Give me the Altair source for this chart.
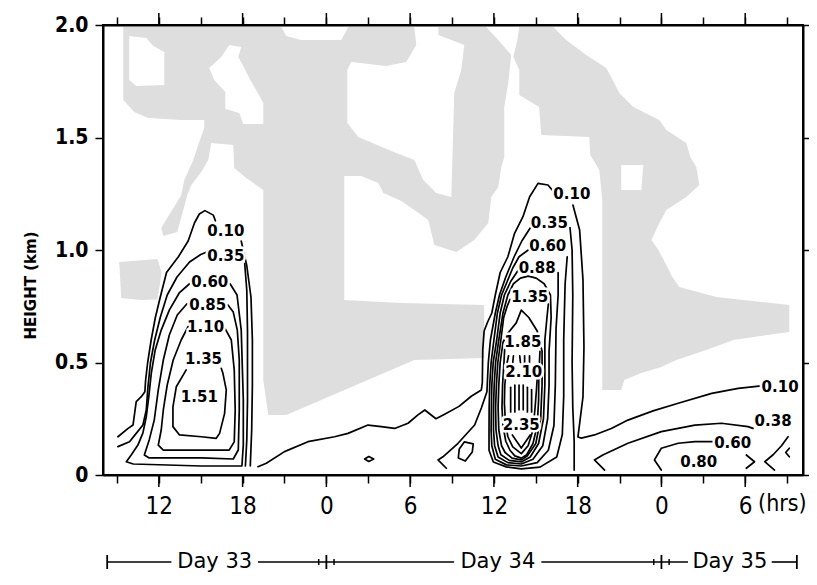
import altair as alt
import pandas as pd

# ---------------- axis values ----------------
HOUR_TICKS = [9, 12, 15, 18, 21, 24, 27, 30, 33, 36, 39, 42, 45, 48, 51, 54, 57]
MAJOR_HOURS = [12, 18, 24, 30, 36, 42, 48, 54]
HEIGHT_TICKS = [0, 0.5, 1.0, 1.5, 2.0]
UNIT_TEXT = ["(hrs)"]
UNIT_T = [58.4]

# ---------------- stippled regions (hour, km) ----------------
STIP_A = [(9.45, 1.991), (20.77, 1.991), (21.13, 1.951), (22.2, 1.933), (25.07, 1.933), (25.57, 1.991),
          (30.3, 1.991), (30.44, 1.911), (29.72, 1.836), (28.29, 1.818), (25.78, 1.836), (25.5, 1.8),
          (25.5, 1.564), (26.29, 1.502), (28.65, 1.44), (30.3, 1.4), (30.94, 1.311), (31.87, 1.253),
          (32.95, 1.236), (33.16, 1.698), (33.66, 1.8), (33.88, 1.911), (32.02, 1.956), (32.02, 1.991),
          (35.45, 1.991), (36.31, 1.933), (37.24, 1.867), (37.03, 1.742), (36.74, 1.636), (36.74, 1.413),
          (36.53, 1.369), (36.31, 1.28), (35.81, 1.236), (35.6, 1.12), (34.59, 1.044), (33.31, 0.991),
          (31.73, 1.022), (31.3, 1.133), (30.3, 1.178), (29.37, 1.218), (28.08, 1.253), (27.72, 1.298),
          (26.5, 1.329), (25.28, 1.329), (25.28, 0.778), (29.37, 0.764), (35.3, 0.756), (35.3, 0.52),
          (30.3, 0.511), (21.13, 0.267), (19.84, 0.267), (19.48, 0.422), (19.48, 1.267), (18.26, 1.32),
          (17.4, 1.364), (17.33, 1.467), (15.75, 1.476), (15.54, 1.4), (15.04, 1.347), (14.33, 1.289),
          (14.04, 1.244), (13.32, 1.08), (12.32, 1.062), (12.17, 1.098), (13.61, 1.244), (13.82, 1.311),
          (14.47, 1.4), (14.82, 1.467), (15.25, 1.542), (15.25, 1.578), (13.61, 1.578), (11.24, 1.587),
          (10.24, 1.613), (9.45, 1.667), (9.45, 1.991)]
STIP_R = [(37.82, 1.991), (40.25, 1.991), (41.18, 1.933), (42.61, 1.867), (44.05, 1.809), (44.55, 1.751),
          (44.98, 1.698), (45.99, 1.636), (47.85, 1.578), (48.35, 1.533), (49.78, 1.476), (50.07, 1.413),
          (50.5, 1.369), (50.71, 1.289), (49.78, 1.236), (48.35, 1.178), (47.85, 1.12), (47.28, 1.044),
          (47.78, 1.0), (48.28, 0.942), (48.78, 0.88), (49.28, 0.836), (51.93, 0.791), (57.16, 0.756),
          (57.16, 0.636), (53.15, 0.6), (51.21, 0.556), (49.07, 0.511), (47.99, 0.48), (46.56, 0.453),
          (45.34, 0.422), (45.12, 0.378), (43.76, 0.378), (43.76, 1.222), (43.55, 1.356), (42.9, 1.422),
          (42.83, 1.502), (39.39, 1.511), (39.24, 1.636), (37.82, 1.689), (37.82, 1.8), (37.39, 1.858),
          (37.68, 1.933), (37.82, 1.991)]
STIP_T = [(9.16, 0.947), (11.9, 0.96), (12.2, 0.9), (11.9, 0.78), (10.74, 0.778), (9.31, 0.787), (9.16, 0.947)]

HOLE_1 = [(9.88, 1.951), (11.1, 1.942), (11.6, 1.907), (12.39, 1.88), (12.39, 1.733), (10.38, 1.729),
          (9.88, 1.756), (9.88, 1.951)]
HOLE_2 = [(17.04, 1.911), (17.9, 1.902), (17.69, 1.858), (18.12, 1.809), (18.55, 1.756), (19.05, 1.702),
          (19.48, 1.653), (19.48, 1.56), (18.05, 1.56), (17.76, 1.609), (16.76, 1.627), (16.76, 1.702),
          (15.97, 1.756), (15.61, 1.809), (16.47, 1.858), (17.04, 1.911)]
HOLE_3 = [(45.12, 1.378), (46.7, 1.378), (46.56, 1.267), (45.12, 1.267), (45.12, 1.378)]

# ---------------- contour lines (hour, km) ----------------
# Day 33 cell
L010a = [(9.07, 0.17), (9.8, 0.207), (10.15, 0.222), (10.38, 0.326), (10.74, 0.348), (11.0, 0.37),
         (11.05, 0.42), (11.2, 0.5), (11.45, 0.6), (11.75, 0.70), (12.1, 0.79), (12.55, 0.9), (13.4, 0.97),
         (14.1, 1.04), (14.55, 1.12), (14.9, 1.16), (15.3, 1.175), (15.9, 1.155), (16.05, 1.13)]
L010b = [(17.9, 1.04), (18.3, 0.93), (18.6, 0.79), (18.7, 0.6), (18.7, 0.4), (18.65, 0.2), (18.55, 0.04)]
L035a = [(9.07, 0.126), (9.9, 0.148), (10.38, 0.185), (10.86, 0.222), (11.1, 0.289), (11.22, 0.392),
         (11.4, 0.5), (11.7, 0.6), (12.1, 0.7), (12.6, 0.8), (13.3, 0.88), (14.2, 0.947), (15.0, 0.98),
         (15.4, 0.99)]
L035b = [(18.15, 0.94), (18.3, 0.82), (18.35, 0.64), (18.35, 0.33), (18.3, 0.156), (18.2, 0.04)]
L060 = [(14.2, 0.85), (13.46, 0.809), (12.75, 0.733), (12.17, 0.644), (11.74, 0.556), (11.46, 0.453),
        (11.28, 0.348), (11.1, 0.259), (10.86, 0.187), (10.5, 0.133), (10.02, 0.089), (9.67, 0.059),
        (10.17, 0.049), (15.04, 0.04), (17.95, 0.04), (18.05, 0.133), (18.05, 0.333), (17.9, 0.644),
        (17.6, 0.8), (17.1, 0.85)]
L085 = [(14.0, 0.76), (13.32, 0.711), (12.75, 0.622), (12.32, 0.511), (11.96, 0.378), (11.67, 0.244),
        (11.31, 0.156), (10.96, 0.089), (11.31, 0.076), (15.04, 0.076), (17.33, 0.071), (17.69, 0.111),
        (17.76, 0.289), (17.76, 0.511), (17.62, 0.644), (17.33, 0.724), (16.95, 0.756)]
L110 = [(14.1, 0.66), (13.6, 0.6), (13.03, 0.511), (12.6, 0.4), (12.32, 0.289), (12.17, 0.2), (11.96, 0.133),
        (12.32, 0.111), (15.04, 0.111), (17.04, 0.111), (17.4, 0.147), (17.47, 0.289), (17.4, 0.467),
        (17.19, 0.6), (16.6, 0.667)]
L135 = [(13.96, 0.467), (13.25, 0.392), (13.01, 0.303), (13.01, 0.215), (13.48, 0.178), (15.04, 0.17),
        (16.11, 0.163), (16.35, 0.185), (16.71, 0.274), (16.83, 0.378), (16.59, 0.452), (16.47, 0.474)]

# long 0.10 line and Day 34 cell
M010a = [(19.1, 0.037), (19.7, 0.052), (21.0, 0.104), (22.68, 0.148), (24.59, 0.17), (25.55, 0.185),
         (26.98, 0.222), (27.93, 0.215), (28.89, 0.207), (29.85, 0.23), (30.56, 0.267), (31.05, 0.289),
         (31.85, 0.25), (32.47, 0.27), (33.5, 0.305), (34.38, 0.35), (35.1, 0.378), (35.17, 0.41),
         (35.2, 0.556), (35.3, 0.64), (35.55, 0.68), (35.85, 0.72), (36.1, 0.8), (36.45, 0.9), (37.0, 0.97),
         (37.48, 1.074), (38.08, 1.148), (38.56, 1.237), (39.16, 1.296), (39.87, 1.289), (40.2, 1.265)]
M010b = [(41.66, 1.2), (42.14, 1.089), (42.38, 0.867), (42.45, 0.569), (42.38, 0.347), (42.02, 0.169),
         (42.26, 0.164), (43.2, 0.178), (44.41, 0.207), (45.6, 0.244), (47.4, 0.285), (49.2, 0.319),
         (51.6, 0.363), (53.5, 0.385), (55.15, 0.396)]
M035a = [(32.59, 0.03), (32.0, 0.067), (32.35, 0.081), (33.43, 0.141), (34.62, 0.222), (35.1, 0.298),
         (35.5, 0.37), (35.6, 0.5), (35.75, 0.6), (36.1, 0.72), (36.4, 0.8), (36.85, 0.88), (37.45, 0.97),
         (38.0, 1.04), (38.6, 1.098)]
M035b = [(41.45, 1.1), (41.6, 1.0), (41.65, 0.8), (41.6, 0.5), (41.65, 0.3), (41.75, 0.15), (41.75, 0.022)]
M060 = [(38.46, 1.0), (37.8, 0.97), (37.35, 0.92), (36.95, 0.86), (36.55, 0.8), (36.25, 0.72), (36.0, 0.6),
        (35.8, 0.5), (35.7, 0.4), (35.66, 0.3), (35.65, 0.2), (35.65, 0.11), (35.96, 0.058), (36.88, 0.036),
        (37.96, 0.027), (39.3, 0.035), (40.5, 0.08), (40.9, 0.18), (41.0, 0.35), (41.0, 0.6), (41.1, 0.85),
        (41.25, 0.97)]
M088 = [(37.75, 0.911), (37.2, 0.86), (36.75, 0.8), (36.45, 0.72), (36.2, 0.6), (35.95, 0.5), (35.85, 0.4),
        (35.82, 0.3), (35.8, 0.2), (35.85, 0.13), (36.1, 0.07), (36.9, 0.045), (37.96, 0.04), (39.1, 0.055),
        (39.9, 0.11), (40.3, 0.22), (40.4, 0.4), (40.45, 0.65), (40.6, 0.8), (40.6, 0.9)]
M110 = [(38.46, 0.884), (37.9, 0.875), (37.4, 0.85), (37.0, 0.8), (36.65, 0.72), (36.35, 0.6), (36.12, 0.5),
        (36.02, 0.4), (35.97, 0.3), (35.97, 0.2), (36.05, 0.13), (36.3, 0.08), (37.0, 0.055), (37.96, 0.049),
        (38.8, 0.07), (39.5, 0.13), (39.85, 0.25), (39.95, 0.4), (39.95, 0.55), (40.1, 0.7), (40.05, 0.8),
        (39.6, 0.85), (39.03, 0.875), (38.46, 0.884)]
M135 = [(37.15, 0.78), (36.95, 0.75), (36.7, 0.7), (36.5, 0.6), (36.28, 0.5), (36.18, 0.4), (36.12, 0.3),
        (36.15, 0.2), (36.3, 0.13), (36.5, 0.09), (37.1, 0.065), (37.96, 0.058), (38.6, 0.08), (39.2, 0.14),
        (39.55, 0.25), (39.65, 0.4), (39.65, 0.6), (39.8, 0.7), (39.9, 0.76)]
M160 = [(37.96, 0.733), (37.6, 0.676), (37.0, 0.63), (36.65, 0.59), (36.45, 0.5), (36.35, 0.4), (36.3, 0.3),
        (36.35, 0.2), (36.55, 0.13), (36.8, 0.1), (37.3, 0.075), (37.96, 0.067), (38.4, 0.085), (39.0, 0.14),
        (39.35, 0.25), (39.45, 0.4), (39.45, 0.55), (39.1, 0.64), (38.5, 0.7), (37.96, 0.733)]
M185 = [(36.78, 0.57), (36.72, 0.5), (36.62, 0.4), (36.58, 0.3), (36.65, 0.22), (36.85, 0.15), (37.15, 0.11),
        (37.5, 0.085), (37.96, 0.075), (38.35, 0.09), (38.8, 0.14), (39.1, 0.22), (39.2, 0.33), (39.22, 0.45),
        (39.3, 0.55)]
M210 = [(36.85, 0.44), (36.78, 0.4), (36.75, 0.32), (36.82, 0.24), (37.0, 0.17), (37.35, 0.125),
        (37.96, 0.095), (38.45, 0.13), (38.8, 0.2), (38.95, 0.3), (39.05, 0.38), (39.1, 0.43)]
M235 = [(37.32, 0.178), (37.96, 0.12), (38.6, 0.178)]
LOOP_S = [(26.74, 0.071), (27.04, 0.082), (27.39, 0.071), (27.04, 0.06), (26.74, 0.071)]
LOOP_D = [(33.88, 0.147), (34.52, 0.138), (34.45, 0.102), (33.95, 0.062), (33.45, 0.076), (33.52, 0.116),
          (33.88, 0.147)]
# Day 35 low-level contours
R038 = [(43.93, 0.022), (43.2, 0.067), (43.8, 0.089), (45.6, 0.141), (47.99, 0.193), (50.4, 0.222),
        (52.3, 0.23), (54.2, 0.215), (54.56, 0.207)]
R060a = [(47.99, 0.022), (47.5, 0.067), (47.99, 0.119), (49.2, 0.141), (50.4, 0.148), (51.7, 0.148)]
R060b = [(54.08, 0.089), (54.67, 0.059), (54.08, 0.03)]
R_FAR = [(56.1, 0.022), (55.4, 0.059), (56.0, 0.09), (56.6, 0.13), (57.07, 0.17)]
R_TINY = [(57.16, 0.119), (56.9, 0.1), (57.16, 0.081)]

# short hatch strokes inside the Day 34 core
HATCH = [[(37.2, 0.28), (37.2, 0.39)], [(37.5, 0.28), (37.5, 0.40)], [(37.8, 0.29), (37.8, 0.40)],
         [(38.1, 0.29), (38.1, 0.40)], [(38.4, 0.28), (38.4, 0.39)], [(38.7, 0.28), (38.7, 0.38)],
         [(36.95, 0.50), (37.05, 0.53)], [(37.35, 0.50), (37.4, 0.53)], [(37.85, 0.53), (37.9, 0.50)],
         [(38.2, 0.50), (38.2, 0.53)], [(38.55, 0.50), (38.55, 0.53)]]

# contour labels
LABEL_TEXT = ["0.10", "0.35", "0.60", "0.85", "1.10", "1.35", "1.51",
              "0.10", "0.35", "0.60", "0.88", "1.35", "1.85", "2.10", "2.35",
              "0.10", "0.38", "0.60", "0.80"]
LABEL_T = [16.8, 16.8, 15.65, 15.5, 15.35, 15.2, 14.9,
           41.58, 39.97, 39.86, 39.1, 38.57, 38.07, 38.14, 37.96,
           56.5, 56.0, 53.1, 50.67]
LABEL_Z = [1.085, 0.975, 0.86, 0.755, 0.66, 0.515, 0.345,
           1.251, 1.122, 1.018, 0.922, 0.789, 0.589, 0.46, 0.222,
           0.389, 0.238, 0.144, 0.056]

# day bar under the axis
DAY_NAMES = ["Day 33", "Day 34", "Day 35"]
DAY_CENTERS = [16.0, 36.28, 52.9]
DAY_LINE_START = [8.3, 19.1, 39.4, 55.9]
DAY_LINE_END = [12.9, 33.15, 49.9, 57.7]
DAY_BAR_TALL = [8.3, 24.0, 48.0, 57.7]
DAY_BAR_SHORT = [23.45, 24.55, 47.45, 48.55]

# ---------------- build tables ----------------
def path_rows(name, pts):
    return [{"id": name, "i": k, "t": t, "z": z} for k, (t, z) in enumerate(pts)]

stip_df = pd.DataFrame(path_rows("A", STIP_A) + path_rows("R", STIP_R) + path_rows("T", STIP_T))
hole_df = pd.DataFrame(path_rows("H1", HOLE_1) + path_rows("H2", HOLE_2) + path_rows("H3", HOLE_3))
named = [("L010a", L010a), ("L010b", L010b), ("L035a", L035a), ("L035b", L035b), ("L060", L060),
         ("L085", L085), ("L110", L110), ("L135", L135), ("M010a", M010a), ("M010b", M010b),
         ("M035a", M035a), ("M035b", M035b), ("M060", M060), ("M088", M088), ("M110", M110),
         ("M135", M135), ("M160", M160), ("M185", M185), ("M210", M210), ("M235", M235),
         ("LOOP_S", LOOP_S), ("LOOP_D", LOOP_D), ("R038", R038), ("R060a", R060a), ("R060b", R060b),
         ("R_FAR", R_FAR), ("R_TINY", R_TINY)]
rows = []
for n, p in named:
    rows += path_rows(n, p)
for k, seg in enumerate(HATCH):
    rows += path_rows("hatch%d" % k, seg)
cont_df = pd.DataFrame(rows)
lab_df = pd.DataFrame({"label": LABEL_TEXT, "t": LABEL_T, "z": LABEL_Z})
major_df = pd.DataFrame({"t": MAJOR_HOURS})
unit_df = pd.DataFrame({"label": UNIT_TEXT, "t": UNIT_T})
day_df = pd.DataFrame({"name": DAY_NAMES, "t": DAY_CENTERS})
dayline_df = pd.DataFrame({"t0": DAY_LINE_START, "t1": DAY_LINE_END})
daytall_df = pd.DataFrame({"t": DAY_BAR_TALL})
dayshort_df = pd.DataFrame({"t": DAY_BAR_SHORT})

# ---------------- encodings ----------------
xs = alt.Scale(domain=[8, 58.14], nice=False, zero=False)
ys = alt.Scale(domain=[0, 2], nice=False, zero=False)
NARROW = "Liberation Sans Narrow, DejaVu Sans Condensed, sans-serif"

x_bottom = alt.X("t:Q", scale=xs, axis=alt.Axis(
    orient="bottom", values=HOUR_TICKS, tickSize=8, labelPadding=11, grid=False, title=None,
    labelExpr="datum.value % 6 == 0 ? '' + (datum.value % 24) : ''",
    labelFont=NARROW, labelFontSize=24, labelFlush=False, labelOverlap=False))
y_left = alt.Y("z:Q", scale=ys, axis=alt.Axis(
    orient="left", values=HEIGHT_TICKS, tickSize=8, labelPadding=7, grid=False,
    labelExpr="datum.value == 0 ? '0' : format(datum.value, '.1f')",
    labelFont=NARROW, labelFontSize=21, labelFontWeight="bold", labelFlush=False,
    title="HEIGHT (km)", titleFont="DejaVu Sans", titleFontSize=15, titleFontWeight="bold",
    titleX=-73, titleY=260, titleAlign="center", titleBaseline="middle", titleAngle=270))
x_top = alt.X("t:Q", scale=xs, axis=alt.Axis(orient="top", values=HOUR_TICKS, tickSize=8, labels=False,
                                           grid=False, title=None))
y_right = alt.Y("z:Q", scale=ys, axis=alt.Axis(orient="right", values=HEIGHT_TICKS, tickSize=6,
                                             labels=False, grid=False, title=None))
x_none = alt.X("t:Q", scale=xs, axis=None)
y_none = alt.Y("z:Q", scale=ys, axis=None)

stipple = alt.Chart(stip_df).mark_line(strokeWidth=0, strokeOpacity=0).encode(
    x=x_bottom, y=y_left, detail="id:N", order="i:Q", fill=alt.value("#dedede"))
holes = alt.Chart(hole_df).mark_line(strokeWidth=0, strokeOpacity=0).encode(
    x=x_none, y=y_none, detail="id:N", order="i:Q", fill=alt.value("white"))
contours = alt.Chart(cont_df).mark_line(color="black", strokeWidth=1.7, strokeJoin="round",
                                        strokeCap="round").encode(
    x=x_top, y=y_right, detail="id:N", order="i:Q")
halo = alt.Chart(lab_df).mark_text(font="DejaVu Sans", fontSize=15, fontWeight="bold", color="white",
                                   stroke="white", strokeWidth=5, strokeJoin="round").encode(
    x=x_none, y=y_none, text="label:N")
labels = alt.Chart(lab_df).mark_text(font="DejaVu Sans", fontSize=15, fontWeight="bold",
                                     color="black").encode(x=x_none, y=y_none, text="label:N")
unit = alt.Chart(unit_df).mark_text(font=NARROW, fontSize=23, color="black", align="right",
                                    baseline="middle").encode(x=x_none, y=alt.value(479), text="label:N")
maj_bottom = alt.Chart(major_df).mark_rule(color="black", strokeWidth=1.5).encode(
    x=x_none, y=alt.value(450), y2=alt.value(462))
maj_top = alt.Chart(major_df).mark_rule(color="black", strokeWidth=1.5).encode(
    x=x_none, y=alt.value(-12), y2=alt.value(0))
day_lines = alt.Chart(dayline_df).mark_rule(color="black", strokeWidth=1.6).encode(
    x=alt.X("t0:Q", scale=xs, axis=None), x2="t1:Q", y=alt.value(537))
day_tall = alt.Chart(daytall_df).mark_rule(color="black", strokeWidth=1.8).encode(
    x=x_none, y=alt.value(530), y2=alt.value(544))
day_short = alt.Chart(dayshort_df).mark_rule(color="black", strokeWidth=1.5).encode(
    x=x_none, y=alt.value(534), y2=alt.value(540))
day_text = alt.Chart(day_df).mark_text(font="DejaVu Sans", fontSize=21, color="black",
                                       baseline="middle").encode(x=x_none, y=alt.value(537), text="name:N")

chart = alt.layer(
    stipple, holes, contours, halo, labels, unit, maj_bottom, maj_top, day_lines, day_tall, day_short, day_text
).properties(
    width=700, height=450,
    padding={"left": 95, "top": 17, "right": 6, "bottom": 102},
    autosize=alt.AutoSizeParams(type="none"),
).configure_view(
    stroke="black", strokeWidth=2
).configure_axis(
    domainColor="black", domainWidth=2, tickColor="black", tickWidth=1.5, labelColor="black",
    titleColor="black"
)

chart.save("out.html", embed_options={"renderer": "svg", "actions": False})
